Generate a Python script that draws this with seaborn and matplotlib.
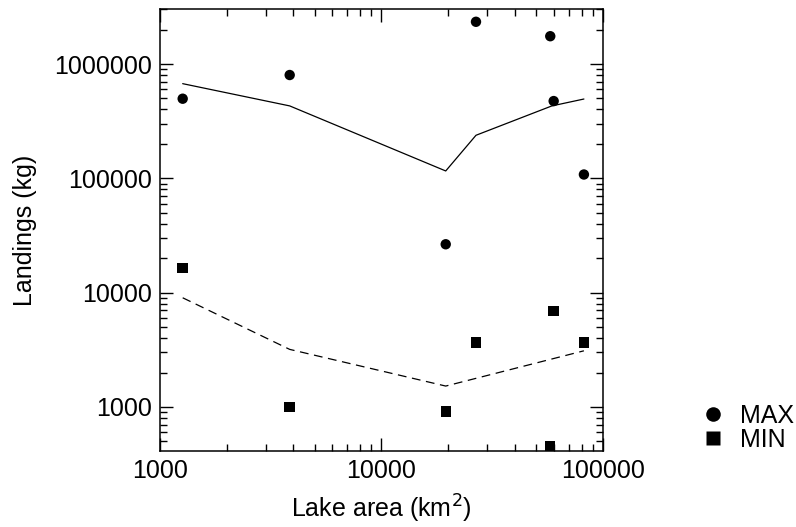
import matplotlib
matplotlib.use("Agg")
import matplotlib.pyplot as plt
import matplotlib.ticker as mticker
import seaborn as sns
import pandas as pd

# Data
lake_area = [1266, 3851, 19500, 26710, 57810, 59900, 82030]
landings_max = [497000, 801000, 26500, 2340000, 1750000, 474000, 108000]
landings_min = [16500, 1000, 912, 3650, 457, 6900, 3650]

fit_max_x = [1266, 3851, 19500, 26710, 58800, 82030]
fit_max_y = [673000, 430000, 116000, 238000, 430000, 494000]
fit_min_x = [1266, 3851, 19500, 82030]
fit_min_y = [9020, 3190, 1524, 3100]

sns.set_style("white")
plt.rcParams['font.family'] = ['Liberation Sans', 'DejaVu Sans']
plt.rcParams['text.color'] = 'black'
plt.rcParams['axes.labelcolor'] = 'black'
plt.rcParams['xtick.color'] = 'black'
plt.rcParams['ytick.color'] = 'black'

FS = 18

pts = pd.DataFrame({
    "area": lake_area * 2,
    "landings": landings_max + landings_min,
    "kind": ["MAX"] * len(lake_area) + ["MIN"] * len(lake_area),
})

fig = plt.figure(figsize=(7.96, 5.27), dpi=100)
ax = fig.add_axes([0.201, 0.1442, 0.5565, 0.8388])

sns.lineplot(x=fit_max_x, y=fit_max_y, ax=ax, color="black", lw=0.9,
             estimator=None, sort=False, legend=False)
sns.lineplot(x=fit_min_x, y=fit_min_y, ax=ax, color="black", lw=0.9,
             estimator=None, sort=False, legend=False)
ax.lines[-1].set_dashes([7, 4.5])

sns.scatterplot(data=pts, x="area", y="landings", style="kind",
                markers={"MAX": "o", "MIN": "s"}, color="black",
                s=56, edgecolor="none", ax=ax, legend=True)

ax.set_xscale("log")
ax.set_yscale("log")
ax.set_xlim(1000, 100000)
ax.set_ylim(412, 3.03e6)

fmt = mticker.FuncFormatter(lambda v, p: f"{int(round(v))}")
ax.xaxis.set_major_formatter(fmt)
ax.yaxis.set_major_formatter(fmt)
ax.xaxis.set_minor_locator(mticker.LogLocator(base=10, subs=range(2, 10)))
ax.yaxis.set_minor_locator(mticker.LogLocator(base=10, subs=range(2, 10)))
ax.xaxis.set_minor_formatter(mticker.NullFormatter())
ax.yaxis.set_minor_formatter(mticker.NullFormatter())

ax.tick_params(which="both", direction="in", top=True, right=True,
               bottom=True, left=True, color="black", labelcolor="black",
               labelsize=FS)
ax.tick_params(which="major", length=9.5, width=1, pad=6)
ax.tick_params(which="minor", length=4.8, width=1)
for sp in ax.spines.values():
    sp.set_color("black")
    sp.set_linewidth(1.1)

ax.set_xlabel("Lake area (km$^2$)", fontsize=FS, labelpad=7)
ax.set_ylabel("Landings (kg)", fontsize=FS, labelpad=12)

h, l = ax.get_legend_handles_labels()
leg = ax.legend(h, l, loc="center left", bbox_to_anchor=(1.17, 0.052),
                frameon=False, fontsize=FS, markerscale=1.4,
                handletextpad=0.05, labelspacing=0.0, borderaxespad=0)

fig.savefig("out.png", dpi=100)
